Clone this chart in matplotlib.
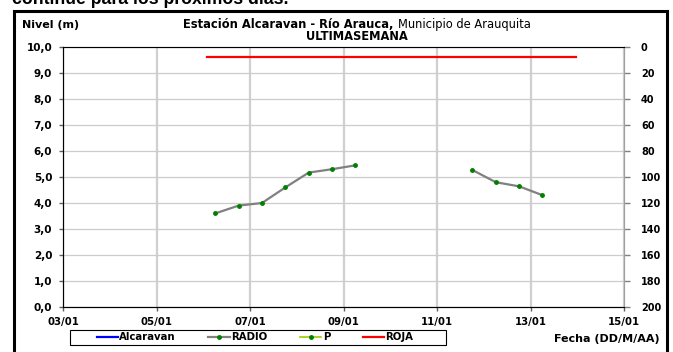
import numpy as np
import pandas as pd
import matplotlib
matplotlib.use("Agg")
import matplotlib.pyplot as plt
import matplotlib.dates as mdates
from matplotlib.patches import Rectangle
from matplotlib.lines import Line2D

plt.rcParams['font.family'] = ['DejaVu Sans']

# Datos (nivel en metros)
fechas_radio = ["2012-01-06 06:00", "2012-01-06 18:00", "2012-01-07 06:00", "2012-01-07 18:00",
                "2012-01-08 06:00", "2012-01-08 18:00", "2012-01-09 06:00", "2012-01-10 06:00",
                "2012-01-11 18:00", "2012-01-12 06:00", "2012-01-12 18:00", "2012-01-13 06:00"]
nivel_radio = [3.60, 3.90, 4.00, 4.60, 5.17, 5.30, 5.45, np.nan, 5.27, 4.80, 4.64, 4.30]

fechas_roja = ["2012-01-06 02:00", "2012-01-13 23:00"]
nivel_roja = [9.6, 9.6]

# series sin datos en la ultima semana
fechas_alcaravan, nivel_alcaravan = [], []
fechas_p, nivel_p = [], []

fecha_ini, fecha_fin = "2012-01-03", "2012-01-15"
nivel_ticks = np.arange(0, 10.01, 1.0)
precip_ticks = np.arange(0, 201, 20)

W, H = 673, 352
fig = plt.figure(figsize=(W / 100, H / 100), dpi=100)
ax = fig.add_axes([63.3 / W, (H - 307) / H, 561 / W, 260 / H])

estilos = {
    'Alcaravan': dict(color='#0000ff', lw=1.6),
    'RADIO': dict(color='#808080', lw=1.6, marker='o', ms=2.5, mfc='#008000', mec='#008000'),
    'P': dict(color='#99cc00', lw=1.2, marker='o', ms=2.5, mfc='#008000', mec='#008000'),
    'ROJA': dict(color='#ff0000', lw=1.6),
}

ax.plot(pd.to_datetime(fechas_alcaravan), nivel_alcaravan, label='Alcaravan', **estilos['Alcaravan'])
ax.plot(pd.to_datetime(fechas_radio), nivel_radio, label='RADIO', **estilos['RADIO'])
ax.plot(pd.to_datetime(fechas_p), nivel_p, label='P', **estilos['P'])
ax.plot(pd.to_datetime(fechas_roja), nivel_roja, label='ROJA', **estilos['ROJA'])

ax.set_xlim(pd.Timestamp(fecha_ini), pd.Timestamp(fecha_fin))
ax.set_ylim(0, 10)
ax.set_yticks(nivel_ticks)
ax.set_yticklabels([f"{v:.1f}".replace('.', ',') for v in nivel_ticks])
ax.xaxis.set_major_locator(mdates.DayLocator(bymonthday=range(1, 32, 2)))
ax.xaxis.set_major_formatter(mdates.DateFormatter('%d/%m'))

ax.grid(True, axis='x', color='#d0d0d0', lw=1.6)
ax.grid(True, axis='y', color='#cccccc', lw=0.9)
ax.set_axisbelow(True)
for s in ['top', 'right']:
    ax.spines[s].set_color('#a0a0a0')
for s in ['left', 'bottom']:
    ax.spines[s].set_color('#303030')
ax.tick_params(axis='y', labelsize=7.5, length=3, width=1, color='#606060', pad=5)
ax.tick_params(axis='x', labelsize=7.3, length=3, width=1, color='#606060', pad=4)
for lab in ax.get_xticklabels() + ax.get_yticklabels():
    lab.set_fontweight('bold')

# eje derecho: precipitacion invertida
ax2 = ax.twinx()
ax2.set_ylim(200, 0)
ax2.set_yticks(precip_ticks)
ax2.tick_params(labelsize=7, length=4, width=1, color='#808080', pad=8)
for lab in ax2.get_yticklabels():
    lab.set_fontweight('bold')
ax2.spines['right'].set_color('#a0a0a0')

# titulos
fig.canvas.draw()
rend = fig.canvas.get_renderer()
t1 = fig.text(0, 1 - 24.5 / H, "Estación Alcaravan - Río Arauca, ", fontsize=8.3,
              fontweight='bold', ha='left', va='center')
t2 = fig.text(0, 1 - 24.5 / H, "Municipio de Arauquita", fontsize=8.3, ha='left', va='center')
w1 = t1.get_window_extent(rend).width
w2 = t2.get_window_extent(rend).width
x0 = 357 - (w1 + w2) / 2
t1.set_x(x0 / W)
t2.set_x((x0 + w1) / W)
fig.text(357 / W, 1 - 36.5 / H, "ULTIMASEMANA", fontsize=8.3, fontweight='bold', ha='center', va='center')
fig.text(22 / W, 1 - 25 / H, "Nivel (m)", fontsize=8, fontweight='bold', ha='left', va='center')
fig.text(660 / W, 1 - 339 / H, "Fecha (DD/M/AA)", fontsize=8, fontweight='bold', ha='right', va='center')

# texto del documento cortado arriba
fig.text(12 / W, 1 - 4.5 / H, "continúe para los próximos días.", fontsize=12.7,
         family=['Liberation Sans', 'DejaVu Sans'], fontweight='bold', ha='left', va='baseline')

# leyenda
handles = [Line2D([], [], **estilos[k]) for k in ['Alcaravan', 'RADIO', 'P', 'ROJA']]
leg = fig.legend(handles, ['Alcaravan', 'RADIO', 'P', 'ROJA'], loc='center',
                 bbox_to_anchor=(255 / W, 1 - 337.5 / H), ncol=4, frameon=False,
                 borderaxespad=0, handlelength=2.1, handletextpad=0.15, borderpad=0,
                 columnspacing=3.2, prop={'weight': 'bold', 'size': 7.3})
fig.add_artist(Rectangle((70 / W, 1 - 345 / H), 376 / W, 15 / H, transform=fig.transFigure,
                         fill=False, edgecolor='black', lw=0.8))

# marco exterior del documento
fig.add_artist(Rectangle((14 / W, -0.2), (667 - 14) / W, 1.2 - 11 / H, transform=fig.transFigure,
                         fill=False, edgecolor='black', lw=2.2, clip_on=False))

fig.savefig("out.png", dpi=100)
